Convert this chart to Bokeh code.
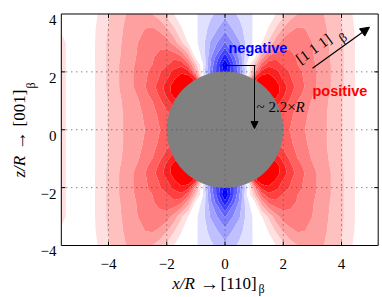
import numpy as np
from bokeh.plotting import figure
from bokeh.models import Range1d, Label, Arrow, NormalHead
from bokeh.embed import file_html
from bokeh.resources import INLINE

# ---------------- data ----------------
# field around the particle in contour-band units (0 = white, + red, - blue),
# read off the picture on a first-quadrant grid (x >= 0, y >= 0); the map is mirror-symmetric
qx = [0.0, 0.5, 0.75, 1.0, 1.25, 1.5, 1.75, 2.0, 2.25, 2.5, 3.0, 3.5, 4.0, 4.5, 5.0]
qy = [0.0, 0.5, 1.0, 1.25, 1.5, 1.75, 2.0, 2.25, 2.5, 3.0, 3.5, 4.0]
q_y000 = [5.2, 5.2, 5.2, 5.2, 5.2, 5.1, 5.0, 4.8, 4.45, 3.9, 3.1, 2.5, 1.6, 0.4, 0.2]
q_y050 = [5.5, 5.5, 5.5, 5.6, 5.7, 5.8, 5.7, 5.1, 4.7, 4.1, 3.2, 2.5, 1.6, 0.4, 0.2]
q_y100 = [6.0, 6.5, 6.8, 7.0, 7.4, 7.6, 7.2, 6.2, 5.3, 4.5, 3.4, 2.6, 1.6, 0.4, 0.2]
q_y125 = [-4.0, 2.0, 5.0, 7.0, 8.0, 8.1, 8.0, 6.8, 5.7, 4.9, 3.6, 2.7, 1.65, 0.4, 0.2]
q_y150 = [-6.0, 0.0, 4.0, 7.5, 8.4, 8.6, 8.0, 7.0, 6.0, 5.1, 3.8, 2.8, 1.7, 0.4, 0.2]
q_y175 = [-7.0, -3.0, 0.0, 7.0, 8.3, 8.2, 7.4, 6.4, 5.6, 4.9, 3.8, 2.8, 1.7, 0.4, 0.2]
q_y200 = [-7.9, -4.0, -0.8, 3.0, 6.8, 7.3, 6.8, 6.0, 5.4, 4.8, 3.8, 2.8, 1.7, 0.4, 0.2]
q_y225 = [-8.6, -3.5, -0.5, 1.8, 4.8, 6.2, 6.0, 5.4, 4.9, 4.5, 3.7, 2.8, 1.7, 0.4, 0.2]
q_y250 = [-7.2, -3.3, -0.8, 0.2, 3.0, 4.8, 5.3, 5.2, 4.8, 4.4, 3.6, 2.7, 1.7, 0.4, 0.2]
q_y300 = [-4.6, -2.6, -1.2, -0.3, 0.4, 1.7, 3.1, 4.0, 4.2, 4.1, 3.5, 2.6, 1.7, 0.4, 0.2]
q_y350 = [-3.2, -1.8, -1.1, -0.35, 0.0, 0.55, 1.6, 2.6, 3.3, 3.6, 3.4, 2.5, 1.6, 0.35, 0.2]
q_y400 = [-2.2, -1.3, -0.9, -0.4, -0.1, 0.1, 0.5, 1.2, 2.0, 2.5, 2.9, 2.4, 1.4, 0.2, 0.15]
# values on the left (x = -5.62) and right (x = 5.26) borders, for the qy rows
left_edge = [0.6, 0.6, 0.6, 0.6, 0.6, 0.6, 0.6, 0.6, 0.6, 0.6, 0.45, 0.4]
right_edge = [0.3, 0.3, 0.3, 0.3, 0.3, 0.3, 0.3, 0.3, 0.3, 0.3, 0.3, 0.3]

levels = [-20, -7.5, -6.5, -5.5, -4.5, -3.5, -2.5, -1.5, -0.5,
          0.5, 1.5, 2.5, 3.5, 4.5, 5.5, 6.5, 7.5, 20]
band_colors = ["#0000ff", "#2020ff", "#4040ff", "#6060ff", "#8080ff", "#a0a0ff", "#c0c0ff", "#e0e0ff",
               "#ffffff",
               "#ffe0e0", "#ffc0c0", "#ffa0a0", "#ff8080", "#ff6060", "#ff4040", "#ff2020", "#ff0000"]

particle_x, particle_y, particle_r = [0.0], [0.0], 2.0
x_lo, x_hi, y_lo, y_hi = -5.62, 5.26, -4.0, 4.0
xticks = [-4, -2, 0, 2, 4]
yticks = [-4, -2, 0, 2, 4]
tick_text = {-4: "\u22124", -2: "\u22122", 0: "0", 2: "2", 4: "4"}

# ---------------- grid assembly (mirror of the quadrant) ----------------
Q = np.array([q_y000, q_y050, q_y100, q_y125, q_y150, q_y175, q_y200,
              q_y225, q_y250, q_y300, q_y350, q_y400])
Q = np.hstack([np.array(left_edge)[:, None], Q[:, :0:-1], Q, np.array(right_edge)[:, None]])
Z = np.vstack([Q[:0:-1, :], Q])
xs = np.concatenate([[x_lo], -np.array(qx[:0:-1]), qx, [x_hi]])
ys = np.concatenate([-np.array(qy[:0:-1]), qy])
X, Y = np.meshgrid(xs, ys)

# ---------------- figure: frame covers the whole canvas ----------------
W, H = 382, 297
px0, sx = 224.5, 29.125      # page pixel of x = 0, pixels per unit
py0, sy = 129.25, 28.94      # page pixel of y = 0, pixels per unit
p = figure(width=W, height=H, output_backend="svg", toolbar_location=None,
           x_range=Range1d(-px0 / sx, (W - px0) / sx),
           y_range=Range1d((py0 - H) / sy, py0 / sy),
           x_axis_location=None, y_axis_location=None, min_border=0)
p.min_border_left = p.min_border_right = p.min_border_top = p.min_border_bottom = 0
p.outline_line_color = None
p.grid.visible = False
p.background_fill_color = "white"
p.border_fill_color = "white"

p.contour(x=X, y=Y, z=Z, levels=levels, fill_color=band_colors, line_color=None)
p.circle(x=particle_x, y=particle_y, radius=particle_r, fill_color="#808080", line_color=None)

# dotted grid on top
gx = [t for t in xticks if x_lo < t < x_hi]
gy = [t for t in yticks if y_lo < t < y_hi]
p.segment(x0=gx, y0=[y_lo] * len(gx), x1=gx, y1=[y_hi] * len(gx),
          line_color="#505050", line_dash="1 4", line_width=1)
p.segment(x0=[x_lo] * len(gy), y0=gy, x1=[x_hi] * len(gy), y1=gy,
          line_color="#505050", line_dash="1 4", line_width=1)

# box and inward ticks on all four sides
p.quad(left=[x_lo], right=[x_hi], bottom=[y_lo], top=[y_hi], fill_color=None, line_color="black", line_width=1)
tl_x, tl_y = 4 / sx, 4 / sy
p.segment(x0=gx, y0=[y_lo] * len(gx), x1=gx, y1=[y_lo + tl_y] * len(gx), line_color="black")
p.segment(x0=gx, y0=[y_hi] * len(gx), x1=gx, y1=[y_hi - tl_y] * len(gx), line_color="black")
p.segment(x0=[x_lo] * len(gy), y0=gy, x1=[x_lo + tl_x] * len(gy), y1=gy, line_color="black")
p.segment(x0=[x_hi] * len(gy), y0=gy, x1=[x_hi - tl_x] * len(gy), y1=gy, line_color="black")

serif = "Liberation Serif"

def lab(x, y, text, size, style="normal", color="black", font=serif, angle=0.0, align="left", base="alphabetic"):
    p.add_layout(Label(x=x, y=y, text=text, text_font=font, text_font_size=size,
                       text_font_style=style, text_color=color, angle=angle,
                       text_align=align, text_baseline=base))

# tick labels
for t in xticks:
    lab(t, (py0 - 263.3) / sy, tick_text[t], "15px", align="center")
for t in yticks:
    lab((56 - px0) / sx, t - 5.9 / sy, tick_text[t], "15px", align="right")

# axis labels, built from pieces (italic, upright, subscript)
lab(-1.813, -5.322, "x/R", "17px", "italic")
lab(-0.86, -5.322, "\u2192", "19px")
lab(-0.155, -5.322, "[110]", "17px")
lab(1.150, -5.52, "\u03b2", "12px")

lab(-7.039, -1.650, "z/R", "17px", "italic", angle=np.pi / 2)
lab(-7.039, -0.70, "\u2192", "19px", angle=np.pi / 2)
lab(-7.039, 0.112, "[001]", "17px", angle=np.pi / 2)
lab(-6.644, 1.425, "\u03b2", "12px", angle=np.pi / 2)

# ---------------- annotations ----------------
sans = "Liberation Sans"
lab(0.120, 2.825, "negative", "14.5px", "bold", "#0000ff", sans)
lab(3.004, 1.339, "positive", "14.5px", "bold", "#ff0000", sans)

mark_top, mark_x = 2.22, 1.013
p.segment(x0=[0.0], y0=[mark_top], x1=[1.047], y1=[mark_top], line_color="black", line_width=1)
p.add_layout(Arrow(end=NormalHead(size=7, fill_color="black", line_color="black"),
                   x_start=mark_x, y_start=mark_top, x_end=mark_x, y_end=0.04,
                   line_color="black", line_width=1))
lab(1.082, 0.803, "~ 2.2\u00d7", "15px")
lab(2.421, 0.803, "R", "15px", "italic")

p.add_layout(Arrow(end=NormalHead(size=9, fill_color="black", line_color="black"),
                   x_start=3.004, y_start=2.127, x_end=4.961, y_end=3.544,
                   line_color="black", line_width=1.2))
lab(2.489, 2.393, "[1 1 1]", "15px", angle=np.deg2rad(35.6))
lab(3.95, 3.12, "\u03b2", "13px", angle=np.deg2rad(35.6))

open("out.html", "w").write(file_html(p, INLINE))
